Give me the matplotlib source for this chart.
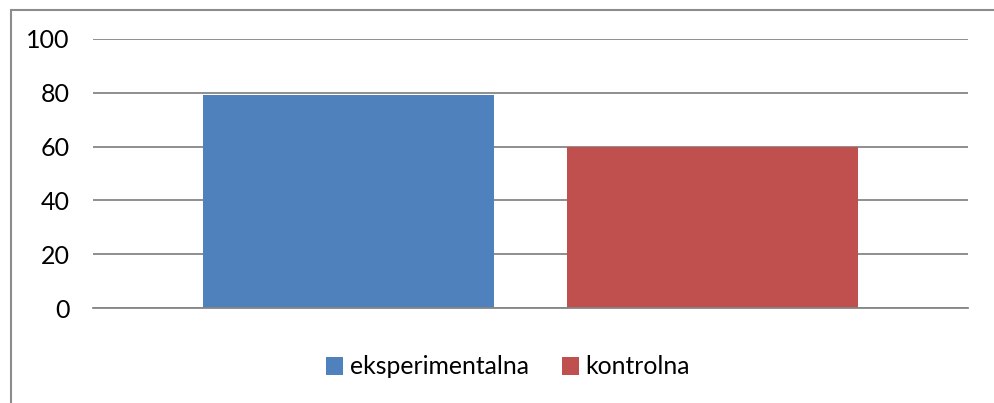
import matplotlib
matplotlib.use("Agg")
import matplotlib.pyplot as plt
import matplotlib.patches as patches

# data
series = ["eksperimentalna", "kontrolna"]
values = [79, 60]
colors = ["#4F81BD", "#C0504D"]
yticks = [0, 20, 40, 60, 80, 100]

W, H = 994, 403
fig = plt.figure(figsize=(W / 100, H / 100), dpi=100)
plt.rcParams["font.family"] = ["Lato", "DejaVu Sans"]

# outer chart border (only left/top visible in the crop)
fig.patches.append(patches.Rectangle((11 / W, -0.1), 1.2, (H - 10) / H + 0.1,
                                     transform=fig.transFigure, fill=False,
                                     edgecolor="#8C8C8C", linewidth=1.5))

ax = fig.add_axes([93 / W, 95 / H, 875 / W, 269 / H])

# one category, two series side by side
width = 0.3337
gap = 0.0823
offsets = [-(width + gap) / 2, (width + gap) / 2]
for name, val, col, off in zip(series, values, colors, offsets):
    ax.bar(0.5 + off, val, width=width, color=col, label=name, zorder=2)

ax.set_xlim(0, 1)
ax.set_ylim(0, 100)
ax.set_yticks(yticks)
ax.set_yticklabels([str(t) for t in yticks], fontsize=18)
ax.set_xticks([])
ax.tick_params(axis="y", length=0, pad=17)
ax.yaxis.grid(True, color="#868686", linewidth=1.3, zorder=1)
for s in ["top", "right", "left"]:
    ax.spines[s].set_visible(False)
ax.spines["bottom"].set_color("#868686")
ax.spines["bottom"].set_linewidth(1.3)

fig.legend(loc="center", bbox_to_anchor=(508 / W, 1 - 367 / H), ncol=2,
           frameon=False, fontsize=17.8, handlelength=0.7, handleheight=0.7,
           handletextpad=0.25, columnspacing=1.35)

fig.savefig("out.png", dpi=100, facecolor="white")
